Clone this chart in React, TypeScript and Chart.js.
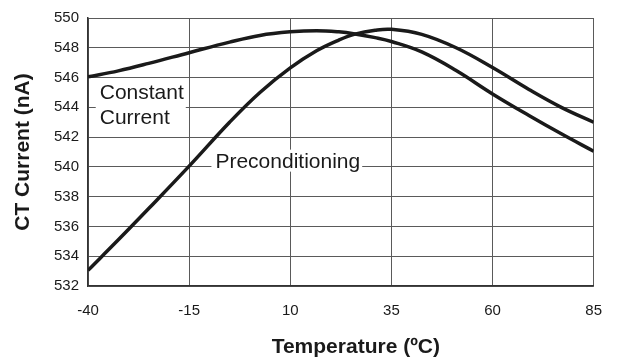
import React, { useEffect, useRef } from "react";
import { Chart, registerables } from "chart.js";

Chart.register(...registerables);

const temperatures = [-40, -32.5, -25, -15, -5, 2.5, 10, 16.5, 22, 26, 31, 35, 42.5, 51, 60, 69, 77, 85];
const constantCurrent = [546.05, 546.45, 546.95, 547.67, 548.38, 548.83, 549.07, 549.15, 549.07, 548.93, 548.68, 548.42, 547.72, 546.47, 544.9, 543.45, 542.22, 541.05];
const preconditioning = [533.05, 535.1, 537.2, 540.05, 543.0, 545.0, 546.65, 547.8, 548.52, 548.92, 549.18, 549.24, 548.9, 548.0, 546.67, 545.2, 544.0, 543.0];

const xTicks = [-40, -15, 10, 35, 60, 85];
const yTicks = [532, 534, 536, 538, 540, 542, 544, 546, 548, 550];

const xTitle = "Temperature (\u00baC)";
const yTitle = "CT Current (nA)";

// Curve labels: text lines, anchor temperature, baseline values of each line
const labelLines = [["Constant", "Current"], ["Preconditioning"]];
const labelX = [-37.1, -8.5];
const labelY = [[544.55, 542.85], [539.95]];

const FONT = "'Liberation Sans', Arial, sans-serif";

const labelPlugin = {
  id: "curveLabels",
  beforeDatasetsDraw(chart: any) {
    const { ctx, scales } = chart;
    const xs = scales.x;
    const ys = scales.y;
    ctx.save();
    ctx.font = `21px ${FONT}`;
    ctx.textBaseline = "alphabetic";
    ctx.textAlign = "left";
    labelLines.forEach((lines, i) => {
      const px = xs.getPixelForValue(labelX[i]);
      const widths = lines.map((t) => ctx.measureText(t).width);
      const w = Math.max(...widths);
      const top = ys.getPixelForValue(labelY[i][0]) - 18;
      const bottom = ys.getPixelForValue(labelY[i][lines.length - 1]) + 4;
      ctx.fillStyle = "#ffffff";
      ctx.fillRect(px - 4, top, w + 6, bottom - top);
      ctx.fillStyle = "#1a1a1a";
      lines.forEach((t, j) => {
        ctx.fillText(t, px, ys.getPixelForValue(labelY[i][j]));
      });
    });
    ctx.restore();
  },
  afterDraw(chart: any) {
    const { ctx, chartArea } = chart;
    ctx.save();
    ctx.font = `bold 21px ${FONT}`;
    ctx.fillStyle = "#1a1a1a";
    ctx.textAlign = "center";
    ctx.textBaseline = "middle";
    ctx.fillText(xTitle, (chartArea.left + chartArea.right) / 2 + 15, chart.height - 14.5);
    ctx.restore();
  },
};

export default function App() {
  const ref = useRef<HTMLCanvasElement>(null);

  useEffect(() => {
    document.body.style.margin = "0";
    const canvas = ref.current;
    if (!canvas) return;
    const mk = (ys: number[]) => temperatures.map((t, i) => ({ x: t, y: ys[i] }));
    const chart = new Chart(canvas, {
      type: "line",
      data: {
        datasets: [
          {
            label: "Constant Current",
            data: mk(constantCurrent),
            borderColor: "#1a1a1a",
            borderWidth: 3.5,
            pointRadius: 0,
            tension: 0.4,
            fill: false,
          },
          {
            label: "Preconditioning",
            data: mk(preconditioning),
            borderColor: "#1a1a1a",
            borderWidth: 3.5,
            pointRadius: 0,
            tension: 0.4,
            fill: false,
          },
        ],
      },
      options: {
        responsive: false,
        animation: false,
        layout: { padding: { top: 16, right: 22, left: 0, bottom: 0 } },
        plugins: {
          legend: { display: false },
          tooltip: { enabled: false },
        },
        scales: {
          x: {
            type: "linear",
            min: -40,
            max: 85,
            afterBuildTicks: (s: any) => {
              s.ticks = xTicks.map((v) => ({ value: v }));
            },
            afterFit: (s: any) => {
              s.height = 76;
            },
            grid: { color: "#5a5a5a", lineWidth: 1, drawTicks: false },
            border: { color: "#333333", width: 1.5 },
            ticks: {
              padding: 16,
              color: "#1a1a1a",
              font: { family: FONT, size: 15 },
              maxRotation: 0,
            },
            title: { display: false, text: xTitle },
          },
          y: {
            type: "linear",
            min: 532,
            max: 550,
            afterBuildTicks: (s: any) => {
              s.ticks = yTicks.map((v) => ({ value: v }));
            },
            afterFit: (s: any) => {
              s.width = 88;
            },
            grid: { color: "#5a5a5a", lineWidth: 1, drawTicks: false },
            border: { color: "#333333", width: 1.5 },
            ticks: {
              padding: 9,
              color: "#1a1a1a",
              font: { family: FONT, size: 15 },
            },
            title: {
              display: true,
              text: yTitle,
              color: "#1a1a1a",
              font: { family: FONT, size: 21, weight: "bold" },
              padding: { top: 10.5, bottom: 0 },
            },
          },
        },
      },
      plugins: [labelPlugin],
    });
    return () => chart.destroy();
  }, []);

  return (
    <div style={{ width: 618, height: 362, background: "#fff" }}>
      <canvas ref={ref} width={618} height={362} />
    </div>
  );
}
